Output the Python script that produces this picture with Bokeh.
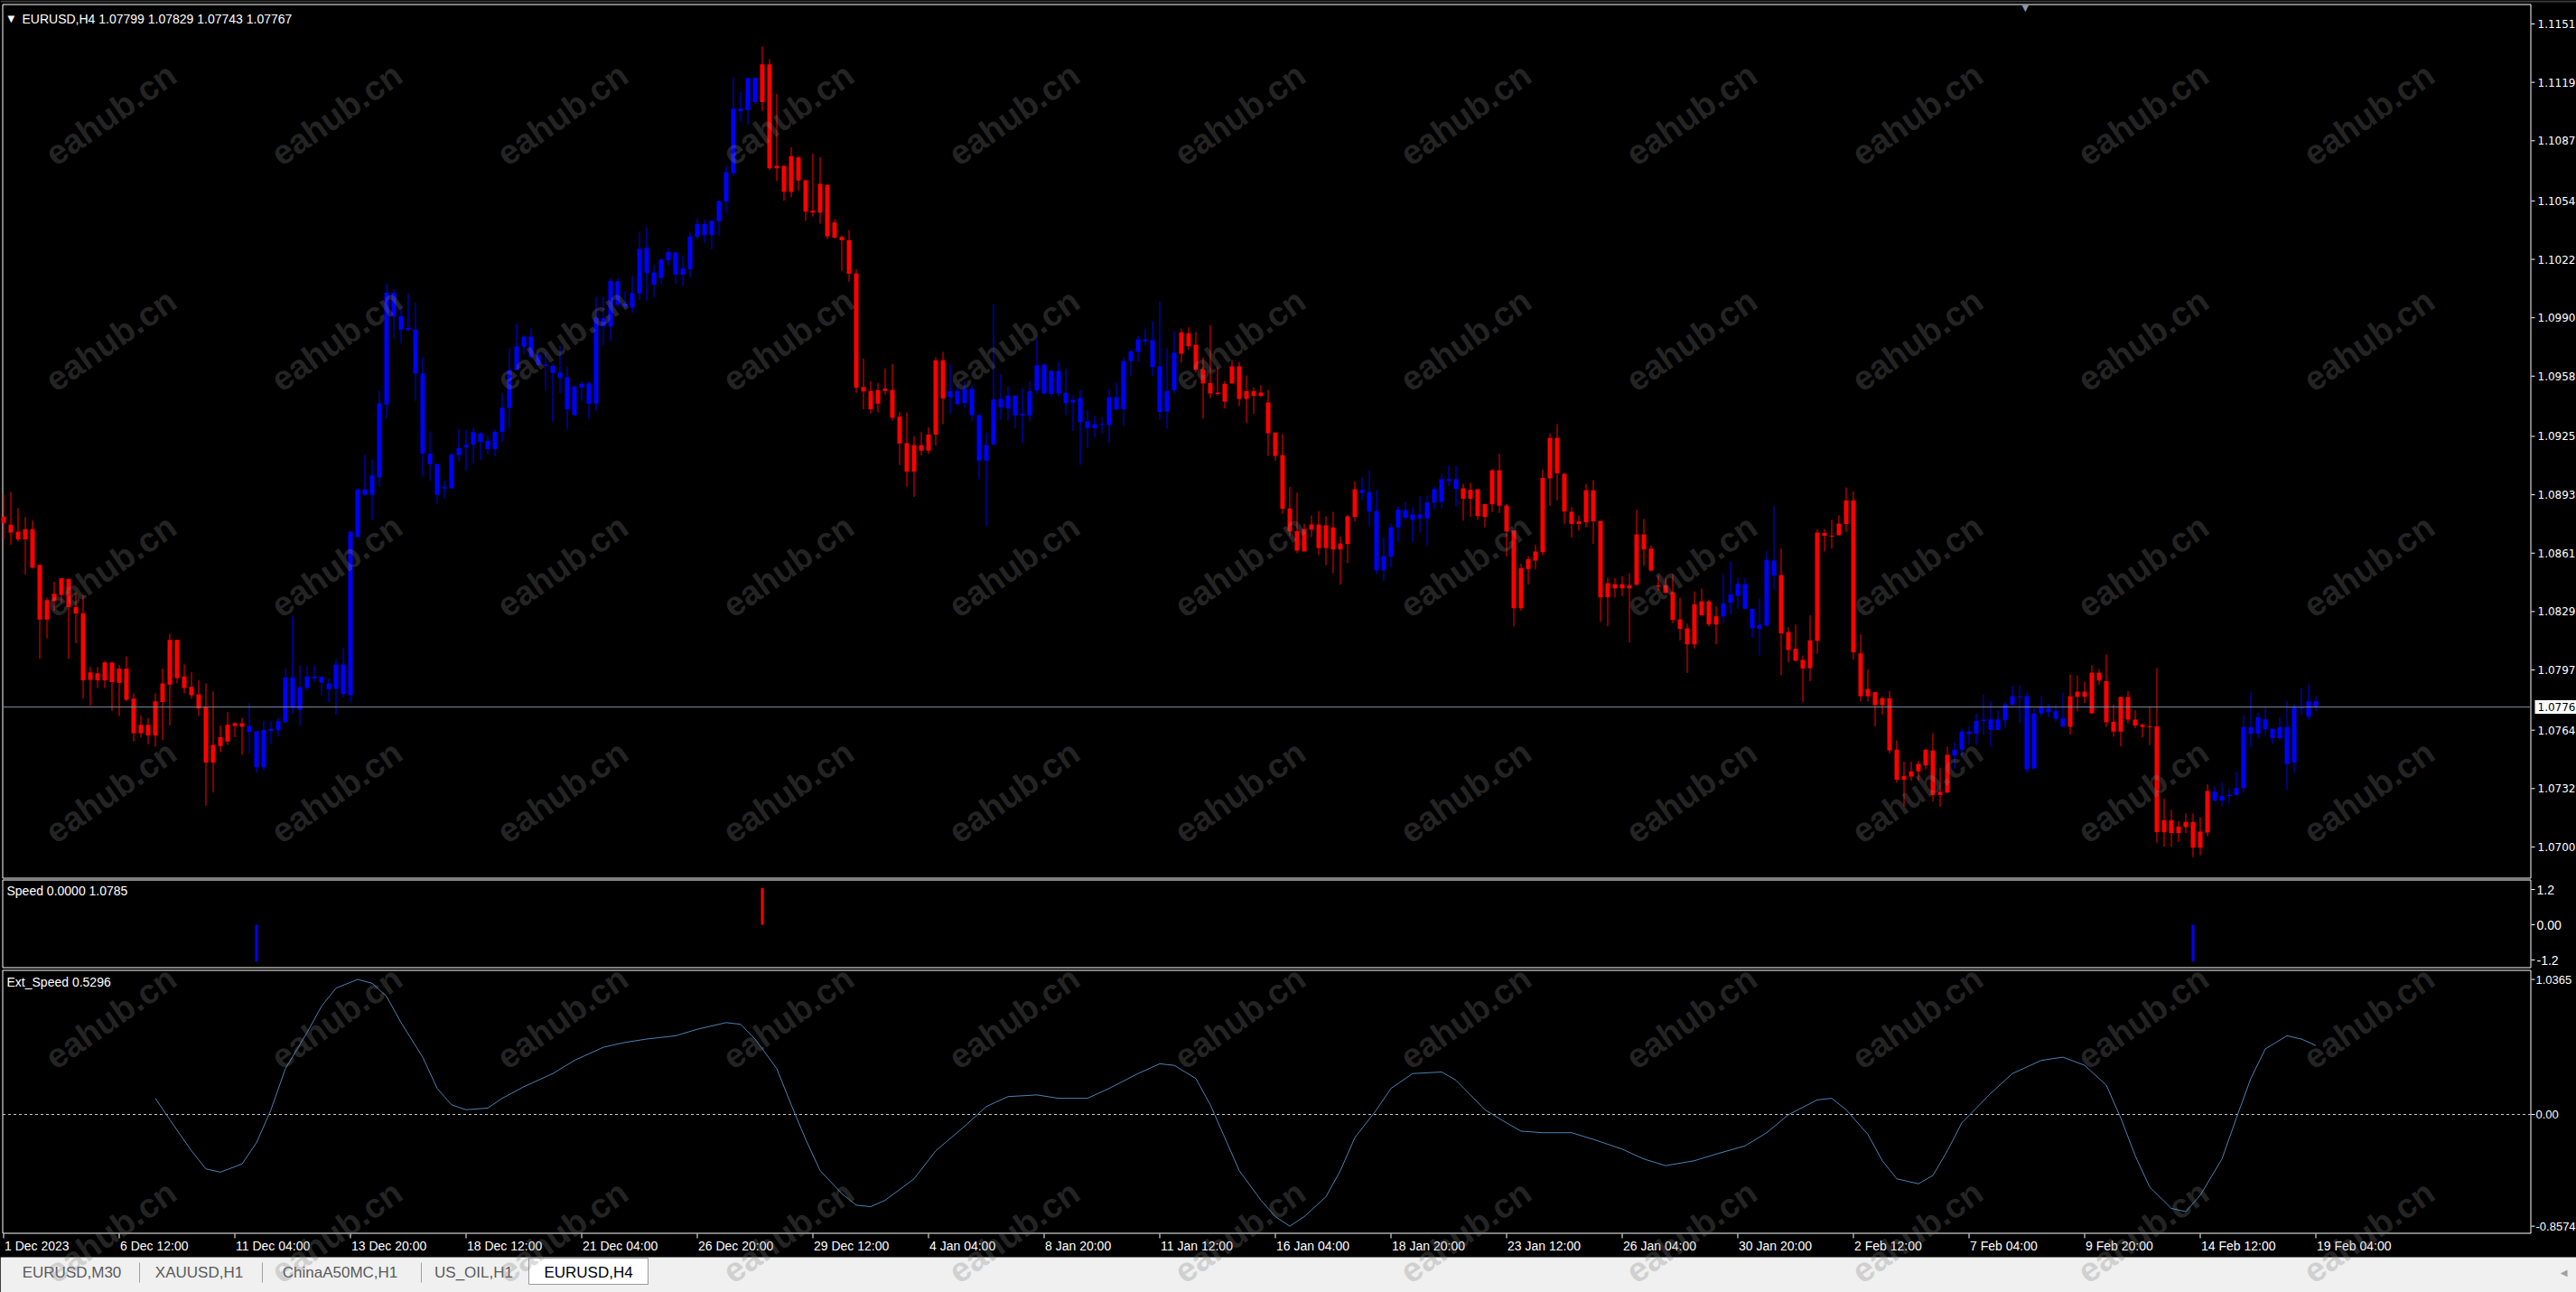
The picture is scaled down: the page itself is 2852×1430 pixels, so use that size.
from bokeh.plotting import figure
from bokeh.models import Range1d, Label, ColumnDataSource, GlobalInlineStyleSheet
from bokeh.layouts import column
from bokeh.embed import file_html
from bokeh.resources import INLINE
from bokeh.core.properties import value

# ---------------------------------------------------------------- data
chart_title = "EURUSD,H4"
opens = [
 1.08811,1.08766,1.08728,1.08685,1.08741,1.08545,1.08246,1.08348,1.08381,1.08468,
 1.08314,1.08281,1.07915,1.07952,1.07913,1.08011,1.07900,1.07977,1.07813,1.07624,
 1.07669,1.07611,1.07794,1.07890,1.08135,1.07934,1.07877,1.07836,1.07765,1.07462,
 1.07553,1.07578,1.07663,1.07678,1.07663,1.07634,1.07437,1.07636,1.07640,1.07684,
 1.07929,1.07751,1.07871,1.07934,1.07932,1.07896,1.07867,1.08000,1.07832,1.08699,
 1.08959,1.08930,1.09026,1.09425,1.10037,1.09908,1.09833,1.09835,1.09594,1.09155,
 1.09098,1.08965,1.08965,1.09148,1.09190,1.09204,1.09266,1.09225,1.09181,1.09275,
 1.09406,1.09614,1.09741,1.09796,1.09694,1.09644,1.09637,1.09600,1.09574,1.09367,
 1.09517,1.09540,1.09429,1.09897,1.09853,1.10100,1.09977,1.09955,1.10033,1.10283,
 1.10148,1.10118,1.10215,1.10258,1.10136,1.10166,1.10343,1.10413,1.10353,1.10428,
 1.10537,1.10693,1.11046,1.11038,1.11214,1.11082,1.11289,1.10719,1.10733,1.10590,
 1.10778,1.10654,1.10486,1.10477,1.10627,1.10339,1.10343,1.10325,1.10143,1.09520,
 1.09499,1.09429,1.09499,1.09504,1.09358,1.09213,1.09057,1.09202,1.09172,1.09259,
 1.09667,1.09464,1.09498,1.09432,1.09510,1.09366,1.09117,1.09205,1.09455,1.09403,
 1.09474,1.09365,1.09365,1.09502,1.09642,1.09482,1.09609,1.09488,1.09436,1.09460,
 1.09332,1.09295,1.09317,1.09312,1.09465,1.09398,1.09663,1.09713,1.09782,1.09777,
 1.09634,1.09386,1.09502,1.09703,1.09815,1.09752,1.09617,1.09543,1.09482,1.09440,
 1.09540,1.09634,1.09455,1.09498,1.09472,1.09436,1.09271,1.09147,1.08855,1.08731,
 1.08619,1.08739,1.08767,1.08638,1.08751,1.08630,1.08660,1.08808,1.08957,1.08945,
 1.08841,1.08516,1.08591,1.08751,1.08846,1.08792,1.08822,1.08800,1.08888,1.08891,
 1.09015,1.09015,1.08965,1.08908,1.08960,1.08808,1.08878,1.09064,1.08871,1.08734,
 1.08308,1.08523,1.08569,1.08615,1.09020,1.09242,1.09044,1.08837,1.08770,1.08779,
 1.08955,1.08787,1.08368,1.08440,1.08417,1.08434,1.08437,1.08713,1.08635,1.08434,
 1.08434,1.08396,1.08247,1.08198,1.08110,1.08346,1.08219,1.08264,1.08264,1.08338,
 1.08376,1.08440,1.08305,1.08195,1.08214,1.08569,1.08490,1.08178,1.08086,1.08025,
 1.07980,1.08129,1.08721,1.08703,1.08709,1.08770,1.08899,1.08061,1.07826,1.07848,
 1.07777,1.07815,1.07533,1.07368,1.07386,1.07414,1.07447,1.07529,1.07285,1.07298,
 1.07501,1.07533,1.07632,1.07620,1.07690,1.07699,1.07642,1.07694,1.07780,1.07826,
 1.07826,1.07430,1.07731,1.07760,1.07744,1.07706,1.07658,1.07823,1.07851,1.07732,
 1.07955,1.07909,1.07686,1.07632,1.07822,1.07698,1.07670,1.07658,1.07661,1.07081,
 1.07147,1.07076,1.07109,1.07137,1.06996,1.07079,1.07303,1.07254,1.07279,1.07285,
 1.07323,1.07657,1.07620,1.07699,1.07648,1.07596,1.07657,1.07463,1.07769,1.07714,
 1.07799]
highs = [
 1.08930,1.08945,1.08857,1.08807,1.08788,1.08545,1.08366,1.08454,1.08472,1.08472,
 1.08391,1.08381,1.07986,1.07986,1.08019,1.08011,1.07996,1.08044,1.07842,1.07722,
 1.07707,1.07842,1.07977,1.08169,1.08135,1.08000,1.07957,1.07913,1.07896,1.07851,
 1.07665,1.07740,1.07684,1.07707,1.07788,1.07634,1.07692,1.07692,1.07707,1.07977,
 1.08269,1.07996,1.07992,1.07996,1.07938,1.07923,1.08029,1.08089,1.08728,1.08965,
 1.09148,1.09123,1.09502,1.10086,1.10057,1.09961,1.10032,1.09984,1.09687,1.09277,
 1.09103,1.09007,1.09152,1.09290,1.09284,1.09299,1.09273,1.09252,1.09287,1.09485,
 1.09733,1.09867,1.09805,1.09844,1.09711,1.09711,1.09650,1.09747,1.09632,1.09531,
 1.09552,1.09552,1.10016,1.10016,1.10118,1.10118,1.10044,1.10127,1.10371,1.10396,
 1.10189,1.10224,1.10281,1.10260,1.10238,1.10366,1.10445,1.10436,1.10436,1.10542,
 1.10733,1.11220,1.11135,1.11214,1.11218,1.11386,1.11317,1.11126,1.10733,1.10834,
 1.10786,1.10657,1.10799,1.10778,1.10631,1.10440,1.10351,1.10380,1.10166,1.09676,
 1.09552,1.09543,1.09623,1.09646,1.09384,1.09381,1.09252,1.09273,1.09299,1.09683,
 1.09713,1.09642,1.09535,1.09551,1.09531,1.09370,1.09271,1.09975,1.09592,1.09523,
 1.09474,1.09513,1.09551,1.09782,1.09650,1.09612,1.09658,1.09622,1.09474,1.09502,
 1.09394,1.09361,1.09356,1.09510,1.09543,1.09683,1.09724,1.09799,1.09840,1.09881,
 1.09988,1.09733,1.09827,1.09840,1.09848,1.09823,1.09683,1.09860,1.09629,1.09554,
 1.09667,1.09658,1.09584,1.09518,1.09530,1.09505,1.09271,1.09262,1.08973,1.08940,
 1.08771,1.08817,1.08841,1.08812,1.08836,1.08701,1.08820,1.09003,1.09026,1.09064,
 1.08957,1.08698,1.08772,1.08866,1.08891,1.08861,1.08924,1.08924,1.08974,1.09043,
 1.09089,1.09089,1.08990,1.08995,1.08960,1.08879,1.09072,1.09155,1.08879,1.08734,
 1.08553,1.08594,1.08657,1.09068,1.09267,1.09317,1.09051,1.08861,1.08817,1.08990,
 1.09010,1.08787,1.08475,1.08473,1.08483,1.08500,1.08846,1.08797,1.08652,1.08487,
 1.08475,1.08495,1.08366,1.08223,1.08401,1.08416,1.08355,1.08317,1.08495,1.08564,
 1.08478,1.08473,1.08305,1.08363,1.08622,1.08871,1.08635,1.08203,1.08219,1.08049,
 1.08269,1.08742,1.08742,1.08792,1.08817,1.08970,1.08949,1.08165,1.07972,1.07851,
 1.07823,1.07855,1.07584,1.07467,1.07467,1.07472,1.07538,1.07623,1.07435,1.07551,
 1.07571,1.07648,1.07661,1.07731,1.07835,1.07797,1.07749,1.07797,1.07881,1.07884,
 1.07851,1.07760,1.07826,1.07785,1.07780,1.07846,1.07945,1.07939,1.07906,1.07995,
 1.07975,1.08054,1.07780,1.07823,1.07855,1.07749,1.07678,1.07769,1.07980,1.07265,
 1.07203,1.07142,1.07183,1.07183,1.07163,1.07343,1.07335,1.07356,1.07320,1.07411,
 1.07722,1.07848,1.07736,1.07765,1.07648,1.07711,1.07797,1.07780,1.07871,1.07888,
 1.07829]
lows = [
 1.08689,1.08655,1.08674,1.08493,1.08526,1.08031,1.08144,1.08294,1.08339,1.08031,
 1.08115,1.07813,1.07774,1.07871,1.07871,1.07746,1.07717,1.07799,1.07578,1.07601,
 1.07563,1.07549,1.07586,1.07665,1.07896,1.07842,1.07813,1.07717,1.07226,1.07299,
 1.07520,1.07559,1.07601,1.07505,1.07514,1.07408,1.07418,1.07563,1.07605,1.07678,
 1.07730,1.07665,1.07857,1.07903,1.07832,1.07794,1.07726,1.07819,1.07794,1.08699,
 1.08924,1.08791,1.08974,1.09348,1.09783,1.09758,1.09826,1.09446,1.09032,1.09007,
 1.08878,1.08911,1.08965,1.09113,1.09061,1.09101,1.09119,1.09154,1.09140,1.09220,
 1.09292,1.09614,1.09703,1.09676,1.09637,1.09499,1.09328,1.09487,1.09287,1.09363,
 1.09443,1.09344,1.09388,1.09747,1.09773,1.09959,1.09950,1.09927,1.09998,1.09994,
 1.10012,1.10086,1.10185,1.10086,1.10074,1.10122,1.10330,1.10309,1.10274,1.10351,
 1.10472,1.10675,1.10976,1.10958,1.11069,1.11032,1.10710,1.10649,1.10542,1.10560,
 1.10596,1.10431,1.10454,1.10415,1.10330,1.10334,1.10157,1.10097,1.09487,1.09398,
 1.09375,1.09381,1.09478,1.09337,1.09093,1.08974,1.08919,1.09146,1.09154,1.09200,
 1.09317,1.09373,1.09422,1.09406,1.09333,1.09015,1.08759,1.09205,1.09341,1.09336,
 1.09292,1.09213,1.09332,1.09480,1.09480,1.09469,1.09469,1.09366,1.09279,1.09094,
 1.09188,1.09246,1.09266,1.09213,1.09394,1.09307,1.09579,1.09658,1.09749,1.09579,
 1.09341,1.09292,1.09485,1.09653,1.09724,1.09601,1.09348,1.09460,1.09472,1.09403,
 1.09540,1.09416,1.09323,1.09373,1.09465,1.09143,1.09117,1.08825,1.08704,1.08610,
 1.08619,1.08698,1.08599,1.08544,1.08500,1.08437,1.08556,1.08784,1.08899,1.08759,
 1.08495,1.08457,1.08531,1.08673,1.08789,1.08671,1.08721,1.08652,1.08850,1.08858,
 1.08977,1.08863,1.08789,1.08808,1.08792,1.08751,1.08836,1.08830,1.08591,1.08209,
 1.08294,1.08437,1.08523,1.08597,1.08870,1.08899,1.08770,1.08696,1.08734,1.08751,
 1.08660,1.08234,1.08209,1.08366,1.08374,1.08120,1.08432,1.08541,1.08508,1.08404,
 1.08388,1.08226,1.08132,1.07954,1.08087,1.08269,1.08209,1.08110,1.08226,1.08275,
 1.08308,1.08305,1.08148,1.08049,1.08206,1.08407,1.07942,1.08011,1.08016,1.07794,
 1.07909,1.08058,1.08619,1.08635,1.08704,1.08726,1.08028,1.07797,1.07797,1.07661,
 1.07724,1.07513,1.07353,1.07224,1.07364,1.07364,1.07425,1.07249,1.07221,1.07298,
 1.07427,1.07493,1.07559,1.07559,1.07615,1.07551,1.07642,1.07653,1.07777,1.07678,
 1.07406,1.07425,1.07719,1.07711,1.07689,1.07653,1.07615,1.07744,1.07789,1.07732,
 1.07889,1.07658,1.07604,1.07551,1.07678,1.07650,1.07600,1.07559,1.07023,1.07001,
 1.07001,1.07026,1.07076,1.06944,1.06955,1.07059,1.07249,1.07224,1.07237,1.07282,
 1.07298,1.07546,1.07596,1.07612,1.07566,1.07584,1.07312,1.07406,1.07727,1.07698,
 1.07743]
closes = [
 1.08776,1.08722,1.08685,1.08741,1.08531,1.08246,1.08352,1.08387,1.08472,1.08314,
 1.08279,1.07913,1.07957,1.07913,1.08011,1.07903,1.07977,1.07807,1.07624,1.07669,
 1.07611,1.07798,1.07896,1.08135,1.07925,1.07871,1.07832,1.07759,1.07462,1.07559,
 1.07601,1.07669,1.07678,1.07659,1.07630,1.07437,1.07640,1.07646,1.07688,1.07929,
 1.07761,1.07875,1.07934,1.07925,1.07900,1.07865,1.08000,1.07838,1.08728,1.08959,
 1.08930,1.09036,1.09431,1.10037,1.09906,1.09835,1.09845,1.09594,1.09155,1.09098,
 1.08930,1.08972,1.09152,1.09186,1.09204,1.09273,1.09220,1.09181,1.09275,1.09406,
 1.09614,1.09743,1.09796,1.09685,1.09641,1.09637,1.09597,1.09570,1.09398,1.09522,
 1.09538,1.09429,1.09901,1.09853,1.10100,1.09971,1.09962,1.10035,1.10277,1.10145,
 1.10081,1.10219,1.10260,1.10136,1.10171,1.10346,1.10413,1.10353,1.10431,1.10539,
 1.10698,1.11046,1.11032,1.11214,1.11082,1.11289,1.10719,1.10733,1.10590,1.10785,
 1.10652,1.10481,1.10477,1.10634,1.10346,1.10422,1.10325,1.10141,1.09517,1.09496,
 1.09398,1.09504,1.09512,1.09352,1.09211,1.09057,1.09202,1.09172,1.09260,1.09667,
 1.09457,1.09498,1.09426,1.09510,1.09366,1.09117,1.09201,1.09452,1.09408,1.09474,
 1.09365,1.09373,1.09498,1.09639,1.09485,1.09609,1.09485,1.09432,1.09449,1.09328,
 1.09295,1.09317,1.09313,1.09465,1.09398,1.09662,1.09716,1.09782,1.09771,1.09630,
 1.09383,1.09498,1.09708,1.09820,1.09744,1.09614,1.09540,1.09485,1.09490,1.09538,
 1.09634,1.09455,1.09498,1.09472,1.09490,1.09267,1.09143,1.08853,1.08729,1.08624,
 1.08742,1.08767,1.08638,1.08762,1.08630,1.08663,1.08812,1.08960,1.08940,1.08838,
 1.08516,1.08594,1.08751,1.08850,1.08804,1.08822,1.08800,1.08888,1.08960,1.09015,
 1.09006,1.08962,1.08908,1.08957,1.08813,1.08879,1.09064,1.08870,1.08729,1.08308,
 1.08528,1.08577,1.08619,1.09023,1.09242,1.09048,1.08838,1.08770,1.08784,1.08955,
 1.08784,1.08368,1.08445,1.08417,1.08440,1.08417,1.08713,1.08630,1.08515,1.08427,
 1.08393,1.08244,1.08195,1.08110,1.08330,1.08269,1.08346,1.08219,1.08335,1.08384,
 1.08442,1.08305,1.08198,1.08218,1.08573,1.08487,1.08170,1.08079,1.08021,1.07978,
 1.08132,1.08723,1.08705,1.08706,1.08772,1.08899,1.08066,1.07826,1.07865,1.07777,
 1.07815,1.07529,1.07368,1.07389,1.07414,1.07455,1.07533,1.07285,1.07302,1.07505,
 1.07533,1.07632,1.07620,1.07691,1.07698,1.07642,1.07699,1.07780,1.07826,1.07823,
 1.07426,1.07731,1.07765,1.07739,1.07703,1.07661,1.07826,1.07851,1.07823,1.07955,
 1.07912,1.07683,1.07632,1.07822,1.07698,1.07665,1.07658,1.07661,1.07081,1.07147,
 1.07076,1.07112,1.07137,1.06996,1.07084,1.07307,1.07254,1.07279,1.07285,1.07323,
 1.07657,1.07620,1.07711,1.07645,1.07596,1.07657,1.07455,1.07769,1.07760,1.07798,
 1.07767]
# candle colouring state (run lengths): r = red, b = blue
trend_runs = [("r", 34), ("b", 71), ("r", 26), ("b", 32), ("r", 25), ("b", 14),
              ("r", 36), ("b", 8), ("r", 24), ("b", 16), ("r", 20), ("b", 15)]
last_price = 1.07767
last_label = "1.0776"
ohlc_text = "1.07799 1.07829 1.07743 1.07767"

speed_bars = [35, 105, 303]
speed_vals = [-1.25, 1.25, -1.25]
speed_title = "Speed 0.0000 1.0785"

ext_bars = [21, 23, 26, 28, 30, 33, 35, 37, 39, 42, 44, 46, 49, 51, 53, 55, 58, 60, 62, 64,
            67, 69, 72, 76, 79, 83, 86, 89, 93, 96, 100, 102, 104, 107, 109, 111, 113, 116,
            118, 120, 122, 126, 129, 133, 136, 139, 143, 146, 150, 153, 157, 160, 162, 165,
            167, 169, 171, 174, 176, 178, 180, 183, 185, 187, 190, 192, 195, 199, 201, 203,
            205, 208, 210, 213, 217, 220, 224, 227, 230, 234, 237, 241, 244, 247, 251, 253,
            255, 258, 260, 262, 265, 267, 269, 271, 275, 278, 282, 285, 288, 291, 293, 295,
            297, 300, 302, 304, 307, 309, 311, 313, 316, 318, 320]
ext_vals = [0.124, -0.040, -0.279, -0.418, -0.443, -0.380, -0.216, 0.036, 0.352, 0.629,
            0.831, 0.970, 1.0365, 1.007, 0.906, 0.705, 0.440, 0.200, 0.074, 0.036,
            0.049, 0.124, 0.213, 0.314, 0.415, 0.516, 0.553, 0.579, 0.604, 0.654,
            0.705, 0.692, 0.579, 0.352, 0.074, -0.191, -0.431, -0.607, -0.696, -0.708,
            -0.658, -0.494, -0.279, -0.090, 0.061, 0.137, 0.150, 0.124, 0.124, 0.200,
            0.314, 0.389, 0.377, 0.276, 0.074, -0.178, -0.431, -0.658, -0.784, -0.8574,
            -0.784, -0.632, -0.431, -0.178, 0.036, 0.200, 0.314, 0.326, 0.263, 0.150,
            0.036, -0.065, -0.128, -0.140, -0.140, -0.191, -0.266, -0.342, -0.393, -0.355,
            -0.304, -0.241, -0.140, -0.002, 0.112, 0.124, 0.036, -0.153, -0.355, -0.494,
            -0.532, -0.468, -0.279, -0.065, 0.162, 0.314, 0.415, 0.440, 0.377, 0.225,
            -0.027, -0.317, -0.557, -0.721, -0.746, -0.620, -0.342, -0.027, 0.276, 0.503,
            0.604, 0.579, 0.5296]
ext_title = "Ext_Speed 0.5296"

time_tick_bars = [0, 16, 32, 48, 64, 80, 96, 112, 128, 144, 160, 176, 192, 208, 224,
                  240, 256, 272, 288, 304, 320]
time_tick_labels = ["1 Dec 2023", "6 Dec 12:00", "11 Dec 04:00", "13 Dec 20:00",
                    "18 Dec 12:00", "21 Dec 04:00", "26 Dec 20:00", "29 Dec 12:00",
                    "4 Jan 04:00", "8 Jan 20:00", "11 Jan 12:00", "16 Jan 04:00",
                    "18 Jan 20:00", "23 Jan 12:00", "26 Jan 04:00", "30 Jan 20:00",
                    "2 Feb 12:00", "7 Feb 04:00", "9 Feb 20:00", "14 Feb 12:00",
                    "19 Feb 04:00"]
price_ticks = [1.1151, 1.1119, 1.1087, 1.1054, 1.1022, 1.0990, 1.0958, 1.0925,
               1.0893, 1.0861, 1.0829, 1.0797, 1.0764, 1.0732, 1.0700]
speed_ticks = [1.2, 0.0, -1.2]
speed_tick_labels = ["1.2", "0.00", "-1.2"]
ext_ticks = [1.0365, 0.0, -0.8574]
ext_tick_labels = ["1.0365", "0.00", "-0.8574"]
tab_names = ["EURUSD,M30", "XAUUSD,H1", "ChinaA50MC,H1", "US_OIL,H1", "EURUSD,H4"]
active_tab = "EURUSD,H4"
watermark = "eahub.cn"

# ---------------------------------------------------------------- geometry
WIDTH, HEIGHT = 2852, 1430
BAR_PX = 8.0
X_START = -3.5 / BAR_PX                 # bar index at the canvas' left edge
X_END = X_START + WIDTH / BAR_PX
FRAME_L, FRAME_R = 2.5, 2801.5
RED, BLUE = "#ff0000", "#0000ff"
UI_FONT = "Liberation Sans"
AX_FONT = "DejaVu Sans"
PX = 0.00004951                         # price per pixel in the main window
SPD = 32.5                              # pixels per unit, Speed window
EXT = 144.2                             # pixels per unit, Ext_Speed window


def xdat(X):
    return X_START + X / BAR_PX


def price_at(Y):
    return 1.1151 - (Y - 26) * PX


p = figure(width=WIDTH, height=HEIGHT, title=None,
           x_range=Range1d(X_START, X_END), y_range=Range1d(HEIGHT, 0),
           output_backend="svg", toolbar_location=None,
           x_axis_location=None, y_axis_location=None, min_border=0,
           background_fill_color="black", border_fill_color="black",
           outline_line_color=None)
p.grid.visible = False
p.extra_y_ranges = {
    "price": Range1d(price_at(HEIGHT), price_at(0)),
    "speed": Range1d((1023 - HEIGHT) / SPD, 1023 / SPD),
    "ext": Range1d((1233 - HEIGHT) / EXT, 1233 / EXT),
}


def frame(Y0, Y1):
    p.quad(left=[xdat(FRAME_L)], right=[xdat(FRAME_R)], top=[Y0], bottom=[Y1],
           fill_color=None, line_color="white", line_width=1)


def y_scale(ticks, labels, rng, X_text, font, size):
    p.segment(x0=[xdat(2802)] * len(ticks), x1=[xdat(2806)] * len(ticks),
              y0=ticks, y1=ticks, y_range_name=rng, line_color="white", line_width=1)
    p.text(x=[xdat(X_text)] * len(ticks), y=ticks, text=labels, y_range_name=rng,
           text_font=value(font), text_font_size=size, text_color="white",
           text_align="left", text_baseline="middle")


def label(X, Y, text, **kw):
    opts = dict(x=xdat(X), y=Y, text=text, text_baseline="middle", text_align="left",
                text_color="white", text_font=UI_FONT, text_font_size="14px")
    opts.update(kw)
    p.add_layout(Label(**opts))


# ---------------------------------------------------------------- window chrome
p.quad(left=[xdat(0)], right=[xdat(WIDTH)], top=[0], bottom=[2],
       fill_color="#3c3c3c", line_color=None)
frame(4.5, 971.5)
frame(973.5, 1070.5)
frame(1073.5, 1364.5)

# ---------------------------------------------------------------- candles
n = len(opens)
colors = []
for state, count in trend_runs:
    colors += [RED if state == "r" else BLUE] * count
colors = colors[:n]
body_top, body_bot, hi, lo = [], [], [], []
for o, h, l, c in zip(opens, highs, lows, closes):
    t, b = max(o, c), min(o, c)
    if t - b < PX:
        b = t - PX
    body_top.append(t)
    body_bot.append(b)
    hi.append(max(h, t))
    lo.append(min(l, b))
src = ColumnDataSource(dict(x=list(range(n)), top=body_top, bot=body_bot,
                            hi=hi, lo=lo, color=colors))
p.segment(x0="x", y0="lo", x1="x", y1="hi", source=src, y_range_name="price",
          line_color="color", line_width=1)
p.vbar(x="x", width=5 / BAR_PX, top="top", bottom="bot", source=src, y_range_name="price",
       fill_color="color", line_color=None)
p.segment(x0=[xdat(FRAME_L)], x1=[xdat(FRAME_R)], y0=[last_price], y1=[last_price],
          y_range_name="price", line_color="#778899", line_width=1)
y_scale(price_ticks, [f"{t:.4f}" for t in price_ticks], "price", 2809, AX_FONT, "12px")
p.quad(left=[xdat(2806)], right=[xdat(WIDTH)], top=[last_price + 7.5 * PX],
       bottom=[last_price - 7.5 * PX], y_range_name="price",
       fill_color="white", line_color=None)
p.text(x=[xdat(2809)], y=[last_price], text=[last_label], y_range_name="price",
       text_font=value(AX_FONT), text_font_size="12px", text_color="black",
       text_align="left", text_baseline="middle")
label(8, 20, "\u25bc", text_font=AX_FONT, text_font_size="10px")
label(24, 20, chart_title + "  " + ohlc_text)
label(2238, 8, "\u25bc", text_font=AX_FONT, text_font_size="10px", text_color="#8898aa")

# ---------------------------------------------------------------- Speed window
ssrc = ColumnDataSource(dict(x=speed_bars, top=speed_vals,
                             color=[RED if v > 0 else BLUE for v in speed_vals]))
p.vbar(x="x", top="top", bottom=0, width=3 / BAR_PX, source=ssrc, y_range_name="speed",
       fill_color="color", line_color=None)
y_scale(speed_ticks, speed_tick_labels, "speed", 2808, UI_FONT, "14px")
label(7, 985, speed_title)

# ---------------------------------------------------------------- Ext_Speed window
p.segment(x0=[xdat(FRAME_L)], x1=[xdat(FRAME_R)], y0=[0], y1=[0], y_range_name="ext",
          line_color="#c8c8c8", line_dash="3 3", line_width=1)
p.line(ext_bars, ext_vals, y_range_name="ext", line_color="#4a82b4", line_width=1)
y_scale(ext_ticks, ext_tick_labels, "ext", 2807, UI_FONT, "13px")
label(7, 1086, ext_title)

# ---------------------------------------------------------------- time scale
p.segment(x0=time_tick_bars, x1=time_tick_bars, y0=[1365] * len(time_tick_bars),
          y1=[1370] * len(time_tick_bars), line_color="white", line_width=1)
p.text(x=[b + 1.0 / BAR_PX for b in time_tick_bars], y=[1378] * len(time_tick_bars),
       text=time_tick_labels, text_font=value(UI_FONT), text_font_size="14px",
       text_color="white", text_align="left", text_baseline="middle")

# ---------------------------------------------------------------- tab bar
p.quad(left=[xdat(0)], right=[xdat(WIDTH)], top=[1391], bottom=[HEIGHT],
       fill_color="#f0f0f0", line_color=None)
p.quad(left=[xdat(585)], right=[xdat(717)], top=[1392], bottom=[1421],
       fill_color="white", line_color="#9a9a9a", line_width=1)
sep_x = [xdat(v) for v in (154, 290, 466)]
p.segment(x0=sep_x, x1=sep_x, y0=[1397] * 3, y1=[1419] * 3,
          line_color="#a0a0a0", line_width=1)
tab_x = [xdat(v) for v in (79, 220, 376, 524, 651)]
tsrc = ColumnDataSource(dict(x=tab_x, y=[1408] * len(tab_names), text=tab_names,
                             color=["black" if t == active_tab else "#5a5a5a"
                                    for t in tab_names]))
p.text(x="x", y="y", text="text", source=tsrc, text_align="center",
       text_baseline="middle", text_color="color",
       text_font=value(UI_FONT), text_font_size="17px")
p.text(x=[xdat(2838)], y=[1408], text=["\u25c0"], text_align="center",
       text_baseline="middle", text_color="#a0a0a0", text_font=value(AX_FONT),
       text_font_size="10px")

# ---------------------------------------------------------------- watermark overlay
# rows every 250 px; the last row is lifted slightly so it stays inside the picture
wm_rows = [126, 376, 626, 876, 1126, 1363]
for Yc in wm_rows:
    for k in range(11):
        p.add_layout(Label(x=xdat(122 + 250 * k), y=Yc, text=watermark,
                           angle=35, angle_units="deg", text_align="center",
                           text_baseline="middle", text_font=UI_FONT,
                           text_font_size="38px", text_font_style="bold",
                           text_color="#808080", text_alpha=0.28))

layout = column(p, stylesheets=[GlobalInlineStyleSheet(
    css="html,body{margin:0;padding:0;background:#000;overflow:hidden}")])

open("out.html", "w").write(file_html(layout, INLINE))
